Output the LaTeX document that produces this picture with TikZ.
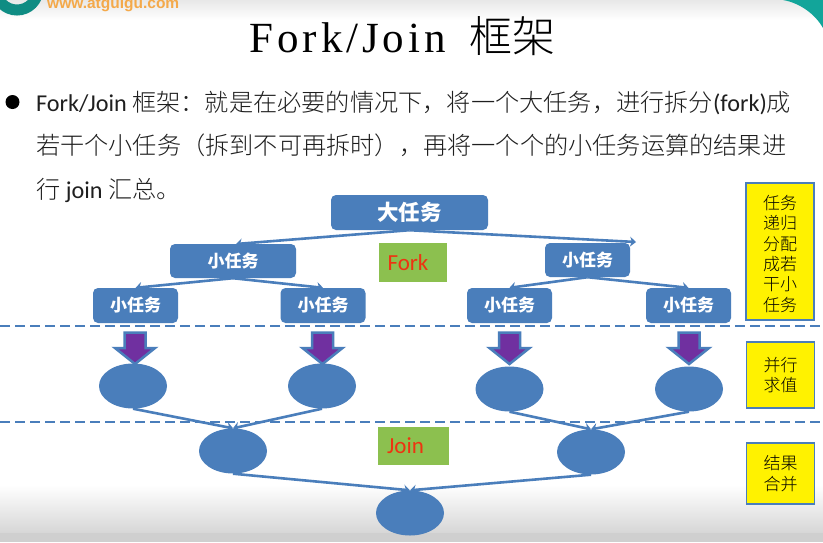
\documentclass[tikz,border=0pt]{standalone}
\usepackage{fontspec}
\setmainfont{Carlito}
\newfontfamily\cjk{Noto Sans CJK SC}
\newfontfamily\cjklight{Noto Sans CJK SC Light}
\newfontfamily\titlefont[LetterSpace=9]{Liberation Serif}
\newfontfamily\titlecjk{Noto Sans CJK SC Light}
\newfontfamily\sitefont{Liberation Sans}
\usetikzlibrary{shapes.geometric,calc,arrows.meta}
\definecolor{bluefill}{HTML}{4A7EBB}
\definecolor{greenbox}{HTML}{8CC04F}
\definecolor{yellowbox}{HTML}{FFF200}
\definecolor{purplefill}{HTML}{7030A0}
\definecolor{tealc}{HTML}{12A59A}
\definecolor{redtext}{HTML}{EE3311}
\definecolor{orangetext}{HTML}{F4A94A}
\tikzset{
  taskbox/.style={draw=none,fill=bluefill,rounded corners=5pt,text=white,inner sep=0pt,align=center,font=\cjk\bfseries},
  bigtask/.style={taskbox,minimum width=157pt,minimum height=35pt,font=\cjk\bfseries\fontsize{21.5}{24}\selectfont},
  midtask/.style={taskbox,minimum height=34pt,font=\cjk\bfseries\fontsize{17}{19}\selectfont},
  smalltask/.style={taskbox,minimum width=85pt,minimum height=35pt,font=\cjk\bfseries\fontsize{17}{19}\selectfont},
  blob/.style={ellipse,fill=bluefill,minimum width=68pt,minimum height=45pt,inner sep=0pt},
  edge/.style={draw=bluefill,line width=2.6pt,-{Stealth[length=6pt,width=10pt]}},
  sep/.style={draw=bluefill,line width=2.6pt,dash pattern=on 10pt off 5pt},
  greenlabel/.style={fill=greenbox,text=redtext,inner sep=0pt,font=\fontsize{23}{25}\selectfont},
  sidebox/.style={draw=bluefill,line width=1.5pt,fill=yellowbox,inner sep=0pt,align=center,font=\cjklight\fontsize{17}{20.4}\selectfont,minimum width=68pt},
  downarrow/.style={draw=bluefill,line width=2.5pt,fill=purplefill,line join=miter},
  bodytext/.style={anchor=base west,inner sep=0pt,text=black!88,font=\fontsize{24.2}{28}\selectfont},
}
\begin{document}
\begin{tikzpicture}[x=1pt,y=-1pt]
\useasboundingbox (0,0) rectangle (823,542);
% slide background
\fill[white] (0,0) rectangle (823,542);
\shade[top color=black!9,bottom color=white] (0,0) rectangle (823,20);
\shade[top color=white,bottom color=black!16] (0,485) rectangle (823,533);
\fill[black!19] (0,533) rectangle (823,542);
% logo and corner
\begin{scope}
\clip (0,0) rectangle (823,542);
\draw[tealc!85!black,line width=11pt] (17,-11) circle (21pt);
\fill[tealc] (783,0) .. controls (800,3) and (815,14) .. (823,28) -- (823,0) -- cycle;
\end{scope}
\node[name=site,anchor=base west,inner sep=0pt,text=orangetext,font=\sitefont\bfseries\fontsize{15.5}{16}\selectfont] at (47,8) {www.atguigu.com};
% title
\node[name=title,anchor=base,inner sep=0pt,font=\fontsize{43}{48}\selectfont] at (402.5,52) {{\titlefont Fork/Join}\hspace{14pt} {\titlecjk 框架}};
% bullet and body
\fill[black] (12.5,102) circle (7pt);
\node[name=lineA,bodytext] at (36,111) {Fork/Join {\cjklight 框架：就是在必要的情况下，将一个大任务，进行拆分}(fork){\cjklight 成}};
\node[name=lineB,bodytext] at (36,154) {\cjklight 若干个小任务（拆到不可再拆时），再将一个个的小任务运算的结果进};
\node[name=lineC,bodytext] at (36,198) {{\cjklight 行} join {\cjklight 汇总。}};
% tasks
\node[name=big,bigtask] at (409.5,212.5) {大任务};
\node[name=ml,midtask,minimum width=126pt] at (233,261) {小任务};
\node[name=mr,midtask,minimum width=85pt] at (587.5,260) {小任务};
\node[name=sa,smalltask] at (135.5,305.5) {小任务};
\node[name=sb,smalltask] at (323,305.5) {小任务};
\node[name=sc,smalltask] at (509.5,305.5) {小任务};
\node[name=sd,smalltask] at (688.5,305.5) {小任务};
\coordinate (mltip) at (236,244);
\coordinate (mrtip) at (636,242);
\draw[edge] (big.south) -- (mltip);
\draw[edge] (big.south) -- (mrtip);
\draw[edge] (ml.south) -- (sa.north);
\draw[edge] (ml.south) -- (sb.north);
\draw[edge] (mr.south) -- (sc.north);
\draw[edge] (mr.south) -- (sd.north);
% labels
\node[name=fork,greenlabel,minimum width=68pt,minimum height=39pt] at (413,262.5) {\hspace*{-10pt}Fork};
\node[name=join,greenlabel,minimum width=71pt,minimum height=38pt] at (413.5,446) {\hspace*{-16pt}\raisebox{-1pt}{Join}};
% separators
\coordinate (sepAl) at (0,326); \coordinate (sepAr) at (823,326);
\coordinate (sepBl) at (0,422); \coordinate (sepBr) at (823,422);
\draw[sep] (sepAl) -- (sepAr);
\draw[sep] (sepBl) -- (sepBr);
% compute ellipses
\node[name=ea,blob] at (133,386) {};
\node[name=eb,blob] at (322,386) {};
\node[name=ec,blob] at (509.5,389) {};
\node[name=ed,blob] at (689,389) {};
\node[name=ja,blob] at (233,451) {};
\node[name=jb,blob] at (591,452) {};
\node[name=fin,blob] at (410,513) {};
% block arrows
\foreach \xx in {135,322.5,509.5,689}{
  \draw[downarrow] (\xx-10.5,332.5) -- (\xx+10.5,332.5) -- (\xx+10.5,348) -- (\xx+20,348) -- (\xx,364) -- (\xx-20,348) -- (\xx-10.5,348) -- cycle;
}
% merge connectors
\draw[edge] (ea.south) -- (ja.north);
\draw[edge] (eb.south) -- (ja.north);
\draw[edge] (ec.south) -- (jb.north);
\draw[edge] (ed.south) -- (jb.north);
\draw[edge] (ja.south) -- (fin.north);
\draw[edge] (jb.south) -- (fin.north);
% side boxes
\node[name=sideA,sidebox,minimum height=137pt] at (780,251.5) {\rule{0pt}{19pt}任务\\递归\\分配\\成若\\干小\\任务};
\node[name=sideB,sidebox,minimum height=66pt] at (780.5,375) {并行\\求值};
\node[name=sideC,sidebox,minimum height=61pt] at (780.5,473.5) {结果\\合并};
\end{tikzpicture}
\end{document}
